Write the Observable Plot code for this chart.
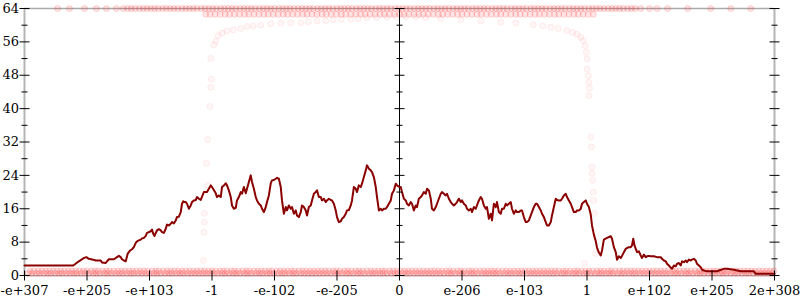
<!DOCTYPE html>
<html><head><meta charset="utf-8">
<script src="https://cdn.jsdelivr.net/npm/d3@7"></script>
<script src="https://cdn.jsdelivr.net/npm/@observablehq/plot@0.6"></script>
<style>body{margin:0;background:#fff}#chart{width:800px;height:300px}</style>
</head><body><div id="chart"></div>
<script>
// x axis: positions are in tick units (0..12) along the ordered doubles
const xTicks = [0,1,2,3,4,5,6,7,8,9,10,11,12];
const xTickLabels = ["-e+307","-e+205","-e+103","-1","-e-102","-e-205","0","e-206","e-103","1","e+102","e+205","2e+308"];
const yMajor = [0,8,16,24,32,40,48,56,64];
const yMinor = [4,12,20,28,36,44,52,60];
const axisXs = [0,6,12];

// averaged error line [x, bits]
const errLine = [[0,2.4],[0.78,2.4],[0.87,3.4],[0.95,4.2],[0.99,4.4],[1.03,4.0],[1.10,3.8],[1.14,3.6],[1.22,3.6],[1.24,3.1],[1.30,3.0],[1.32,3.4],[1.35,3.9],[1.43,3.9],[1.48,4.4],[1.51,4.7],[1.54,4.4],[1.56,3.9],[1.59,3.6],[1.62,3.4],[1.63,4.0],[1.65,5.2],[1.69,6.0],[1.72,6.3],[1.75,6.8],[1.78,7.8],[1.80,8.2],[1.83,8.4],[1.86,8.6],[1.88,8.9],[1.91,9.0],[1.94,9.5],[1.96,10.2],[1.99,10.4],[2.02,10.6],[2.04,11.0],[2.06,10.0],[2.08,9.5],[2.10,10.2],[2.12,10.8],[2.15,11.1],[2.18,10.8],[2.20,10.4],[2.23,10.2],[2.26,11.2],[2.28,12.2],[2.31,12.0],[2.34,12.4],[2.36,12.8],[2.39,12.5],[2.42,13.2],[2.44,14.0],[2.47,14.1],[2.50,15.2],[2.52,17.2],[2.54,17.8],[2.56,17.6],[2.58,17.6],[2.60,17.2],[2.63,16.0],[2.66,16.8],[2.68,17.6],[2.71,18.0],[2.74,18.1],[2.76,18.8],[2.79,18.4],
[2.82,18.1],[2.87,20.0],[2.92,20.0],[2.98,21.6],[3.00,21.2],[3.03,20.5],[3.06,19.7],[3.08,18.8],[3.11,19.2],[3.14,18.8],[3.16,21.2],[3.19,21.6],[3.22,22.1],[3.24,21.6],[3.27,20.4],[3.30,18.8],[3.32,16.8],[3.35,16.0],[3.38,16.2],[3.40,18.0],[3.43,18.8],[3.46,20.0],[3.48,19.6],[3.51,21.2],[3.54,19.7],[3.56,20.8],[3.59,22.4],[3.62,24.0],[3.64,22.4],[3.67,20.8],[3.70,18.8],[3.72,18.0],[3.75,17.2],[3.78,16.8],[3.80,16.0],[3.83,15.2],[3.86,16.4],[3.88,17.6],[3.91,19.2],[3.94,22.1],[3.96,22.8],[3.99,22.9],[4.02,23.2],[4.04,23.4],[4.07,23.2],[4.10,21.2],[4.12,18.0],[4.15,14.8],[4.18,16.4],[4.20,15.6],[4.23,16.8],[4.26,16.0],[4.28,16.4],[4.31,14.8],[4.34,15.6],[4.36,14.4],[4.39,14.0],[4.42,15.2],[4.44,16.8],[4.47,16.4],[4.50,15.6],[4.52,14.4],[4.55,16.4],[4.58,16.8],[4.60,18.0],[4.63,19.6],[4.66,20.0],[4.68,20.4],[4.71,18.8],[4.74,18.8],[4.76,18.0],[4.79,18.4],[4.82,17.6],[4.84,18.0],[4.87,18.4],[4.90,18.1],[4.92,18.0],[4.95,17.2],[4.98,15.6],[5.00,14.0],[5.03,12.8],[5.06,13.0],[5.08,13.6],[5.11,14.0],[5.14,14.8],[5.16,15.6],[5.19,15.7],[5.22,16.8],[5.24,18.0],[5.27,21.2],[5.30,20.8],[5.32,20.0],[5.35,21.6],[5.38,21.2],[5.40,22.0],[5.43,23.6],[5.46,25.2],[5.48,26.4],[5.51,25.6],[5.54,25.2],[5.56,24.8],[5.59,23.6],[5.62,21.2],[5.64,18.8],[5.67,15.6],[5.70,16.0],[5.72,15.6],[5.75,16.0],[5.78,16.0],[5.80,16.4],[5.83,17.2],[5.86,18.0],[5.88,19.6],[5.91,20.4],[5.94,22.0],[5.96,21.6],[6.00,21.2],
[6.02,21.2],[6.04,20.0],[6.07,18.4],[6.10,18.0],[6.12,17.2],[6.15,16.8],[6.18,17.6],[6.20,17.2],[6.23,15.6],[6.26,16.8],[6.28,16.4],[6.31,18.4],[6.34,18.8],[6.36,19.2],[6.39,20.0],[6.42,19.6],[6.44,20.8],[6.47,20.4],[6.50,18.4],[6.52,16.0],[6.55,15.6],[6.58,16.4],[6.60,17.2],[6.63,18.4],[6.66,19.6],[6.68,20.0],[6.71,19.6],[6.74,19.2],[6.76,19.6],[6.79,18.4],[6.82,17.6],[6.84,17.2],[6.87,16.8],[6.90,17.2],[6.92,17.6],[6.95,18.4],[6.98,17.6],[7.00,18.0],[7.03,17.2],[7.06,16.8],[7.08,16.0],[7.11,15.6],[7.14,16.0],[7.16,15.2],[7.19,16.4],[7.22,16.0],[7.24,16.8],[7.27,18.0],[7.30,18.8],[7.32,18.4],[7.35,16.8],[7.38,16.0],[7.40,16.4],[7.43,13.6],[7.46,14.8],[7.48,13.2],[7.51,17.2],[7.54,16.4],[7.56,17.6],[7.59,15.2],[7.62,14.8],[7.64,16.0],[7.67,16.0],[7.70,17.2],[7.72,16.8],[7.75,17.2],[7.78,17.6],[7.80,16.0],[7.83,14.8],[7.86,15.6],[7.88,15.2],[7.91,15.2],[7.94,15.6],[7.96,15.6],[7.99,14.0],[8.02,12.8],[8.04,12.8],[8.07,13.2],[8.10,14.4],[8.12,15.2],[8.15,16.4],[8.18,17.2],[8.20,17.2],[8.23,16.4],[8.26,15.6],[8.28,14.8],[8.31,14.0],[8.34,12.8],[8.36,12.0],[8.39,12.0],[8.42,12.8],[8.44,14.4],[8.47,16.4],[8.50,18.4],[8.52,18.1],[8.55,18.0],[8.58,18.0],[8.60,18.4],[8.63,19.2],[8.66,19.6],[8.68,18.8],[8.71,18.0],[8.74,17.2],[8.76,16.4],[8.79,15.2],[8.82,15.2],[8.84,15.6],[8.87,15.6],[8.90,16.0],[8.92,17.2],[8.95,17.6],[8.98,18.0],[9.00,17.2],
[9.03,16.4],[9.06,14.6],[9.08,12.0],[9.11,9.8],[9.14,8.2],[9.16,6.7],[9.19,5.5],[9.22,4.8],[9.24,6.0],[9.27,8.6],[9.32,9.0],[9.38,9.4],[9.40,8.8],[9.43,6.8],[9.46,5.6],[9.48,3.8],[9.51,4.6],[9.54,4.2],[9.56,4.7],[9.59,5.6],[9.62,6.4],[9.64,6.6],[9.67,6.8],[9.70,6.8],[9.72,7.2],[9.74,8.8],[9.76,7.2],[9.78,6.4],[9.80,5.6],[9.83,5.8],[9.86,4.8],[9.88,4.2],[9.91,5.0],[9.94,4.4],[9.96,4.6],[9.99,4.7],[10.02,4.6],[10.07,4.6],[10.12,4.4],[10.18,4.4],[10.20,4.0],[10.23,3.6],[10.26,3.4],[10.28,2.8],[10.31,2.4],[10.34,1.9],[10.36,1.6],[10.39,2.4],[10.42,2.2],[10.44,2.8],[10.47,3.0],[10.50,2.4],[10.52,3.4],[10.55,3.2],[10.58,3.6],[10.60,3.2],[10.63,3.8],[10.66,3.6],[10.68,3.8],[10.71,4.0],[10.74,3.6],[10.76,2.8],[10.79,2.4],[10.82,2.0],[10.84,1.4],[10.87,1.2],[10.92,1.0],[10.98,1.0],[11.08,1.0],[11.11,1.2],[11.19,1.6],[11.24,1.6],[11.35,1.4],[11.46,1.0],[11.56,1.0],[11.67,1.0],[11.70,0.4],[11.78,0.4],[12.0,0.4]];

// sampled points: low-error band (x in hundredths of a tick unit)
const lowBandY = [0.5, 1.1];
const lowBandA = [6,12,19,24,31,37,42,49,55,60,67,73,79,84,91,97,103,110,115,121,128,133,139,146,152,157,164,170,175,182,188,194,200,207,212,218,225,231,236,243,249,254,261,267,273,279,285,291,297,303,309,316,321,327,334,339,345,352,357,363,370,376,381,388,393,399,406,412,417,424,430,435,442,448,454,460,466,472,478,484,490,497,502,508,515,520,526,533,538,544,551,557,562,569,574,580,587,593,598,605,611,616,623,629,635,641,647,653,659,665,671,678,683,689,696,701,707,714,719,725,732,738,743,750,755,761,768,774,779,786,792,797,804,810,816,822,828,834,840,846,852,859,864,870,877,882,888,895,900,906,913,919,924,931,936,942,949,955,960,967,973,978,985,991,997,1003,1009,1015,1021,1027,1033,1040,1045,1051,1058,1063,1069,1076,1081,1087,1094,1100,1105,1112,1117,1123,1130,1136,1141,1148,1154,1159,1166,1172,1178,1184,1190,1196];
const lowBandB = [9,15,22,28,34,40,46,52,58,64,70,76,82,88,94,100,107,113,118,125,131,136,143,149,155,161,167,173,179,185,191,197,204,210,215,222,228,234,240,246,252,258,264,270,276,282,288,294,300,306,313,318,324,331,336,342,349,355,360,367,373,379,385,391,396,403,409,415,421,427,432,439,445,451,457,463,469,475,481,487,494,499,505,512,517,523,530,535,541,548,554,560,566,572,577,584,590,596,602,608,614,620,626,632,638,644,650,656,662,668,675,680,686,693,698,704,711,716,722,729,735,741,747,752,758,765,771,777,783,789,795,801,807,813,819,825,831,837,843,849,855,862,867,873,880,885,891,898,903,909,916,922,927,934,939,945,952,958,964,970,976,982,988,994,1000,1006,1012,1018,1024,1030,1037,1042,1048,1055,1060,1066,1073,1079,1084,1090,1097,1103,1108,1115,1120,1126,1133,1139,1145,1151,1157,1163,1169,1175,1181,1187,1193,1199];
// high-error bands
const highBandY = [64, 62.6];
const highBandA = [53,72,96,115,131,147,158,165,171,177,184,190,196,202,208,214,221,227,233,239,245,252,258,264,270,276,283,289,295,301,307,314,320,326,332,338,345,351,357,363,369,376,382,388,394,400,407,413,419,425,431,438,444,450,456,462,469,475,481,487,493,500,506,512,518,524,531,537,543,549,555,562,568,574,580,586,593,599,605,611,617,624,630,636,642,648,655,661,667,673,679,686,692,698,704,710,717,723,729,735,741,748,754,760,766,772,779,785,791,797,803,810,816,822,828,834,841,847,853,859,865,872,878,884,890,896,903,909,915,921,927,934,940,946,952,958,965,971,977,986,1000,1012,1029,1061,1098,1130,1162];
const highBandB = [290,297,305,313,321,328,336,344,352,359,367,375,383,390,398,406,414,421,429,437,445,452,460,468,476,483,491,499,507,514,522,530,538,545,553,561,569,576,584,592,600,607,615,623,631,638,646,654,662,669,677,685,693,700,708,716,724,731,739,747,755,762,770,778,786,793,801,809,817,824,832,840,848,855,863,871,879,886,894,902,910];
// curved arcs and scattered points [x, bits]
const arcPts = [[2.86,3.6],[2.87,10.4],[2.88,12.8],[2.88,14.9],[2.93,21.6],[2.91,26.9],[2.93,32.6],[2.97,40.5],[2.98,45.1],[2.99,47.1],[2.98,52.0],[3.03,55.3],[3.06,56.2],[3.10,57.5],[3.16,58.1],[3.24,58.6],[3.34,58.9],[3.46,59.2],[3.56,59.7],[3.66,59.8],[3.78,60.0],[3.94,60.3],[4.10,60.5],[4.26,60.6],[4.42,60.6],[4.54,60.8],[4.68,61.0],[4.82,61.1],[4.94,61.3],[5.07,61.4],[5.22,61.5],[5.34,61.6],[5.48,61.8],[5.63,61.8],[5.80,61.9],[5.94,62.0],[6.10,62.1],[6.26,62.0],[6.42,61.8],[6.66,61.6],[6.98,61.3],[7.30,61.0],[7.62,60.7],[7.86,60.5],[8.14,60.1],[8.29,59.8],[8.42,59.5],[8.54,59.2],[8.68,58.7],[8.77,58.3],[8.84,57.8],[8.90,57.1],[8.94,56.3],[8.97,55.1],[8.99,53.5],[9.00,51.9],[9.00,49.5],[9.02,47.9],[9.03,46.3],[9.04,44.9],[9.03,43.1],[9.06,33.2],[9.07,30.8],[9.08,26.0],[9.08,24.5],[9.09,22.8],[9.10,20.0],[9.11,18.0],[9.12,14.9],[9.14,5.3],[8.96,2.9]];

const hline = {draw(ctx, size) { const r = Math.sqrt(size / Math.PI); ctx.moveTo(-r, 0); ctx.lineTo(r, 0); }};
const vline = {draw(ctx, size) { const r = Math.sqrt(size / Math.PI); ctx.moveTo(0, -r); ctx.lineTo(0, r); }};

const bandPoints = [
  ...lowBandA.map(v => ({x: v / 100, y: lowBandY[0]})),
  ...lowBandB.map(v => ({x: v / 100, y: lowBandY[1]})),
  ...highBandA.map(v => ({x: v / 100, y: highBandY[0]})),
  ...highBandB.map(v => ({x: v / 100, y: highBandY[1]}))
];
const arcPoints = arcPts.map(([x, y]) => ({x, y}));
const majorTicks = axisXs.flatMap(x => yMajor.map(y => ({x, y})));
const minorTicks = axisXs.flatMap(x => yMinor.map(y => ({x, y})));
const FONT = "'DejaVu Serif', serif";

const chart = Plot.plot({
  width: 800, height: 300,
  marginLeft: 24, marginRight: 26, marginTop: 8, marginBottom: 25,
  x: {domain: [0, 12], axis: null},
  y: {domain: [0, 64], axis: null},
  style: {fontFamily: FONT, fontSize: "13px", background: "white", overflow: "visible"},
  marks: [
    Plot.ruleY([64, 0], {stroke: "#aaa", strokeWidth: 1.5}),
    Plot.ruleX([0, 12], {stroke: "#b5b5b5", strokeWidth: 2}),
    Plot.dot(bandPoints, {x: "x", y: "y", r: 3, fill: "red", fillOpacity: 0.1, stroke: "red", strokeOpacity: 0.14, strokeWidth: 1}),
    Plot.dot(arcPoints, {x: "x", y: "y", r: 3, fill: "red", fillOpacity: 0.03, stroke: "red", strokeOpacity: 0.07, strokeWidth: 1}),
    Plot.ruleX([6], {stroke: "black", strokeWidth: 1}),
    Plot.line(errLine, {x: d => d[0], y: d => d[1], stroke: "darkred", strokeWidth: 2}),
    Plot.dot(majorTicks, {x: "x", y: "y", symbol: hline, r: 5, stroke: "black", fill: "none", strokeWidth: 1}),
    Plot.dot(minorTicks, {x: "x", y: "y", symbol: hline, r: 3, stroke: "black", fill: "none", strokeWidth: 1}),
    Plot.dot(xTicks, {x: d => d, y: 0, symbol: vline, r: 5, stroke: "black", fill: "none", strokeWidth: 1}),
    Plot.text(yMajor, {x: 0, y: d => d, text: d => String(d), textAnchor: "end", dx: -5.5, fontSize: 13, fontFamily: FONT, fill: "black"}),
    Plot.text(xTicks, {x: d => d, y: 0, text: (d, i) => xTickLabels[i], dy: 15, fontSize: 13, fontFamily: FONT, fill: "black"})
  ]
});
document.getElementById("chart").appendChild(chart);
</script></body></html>
